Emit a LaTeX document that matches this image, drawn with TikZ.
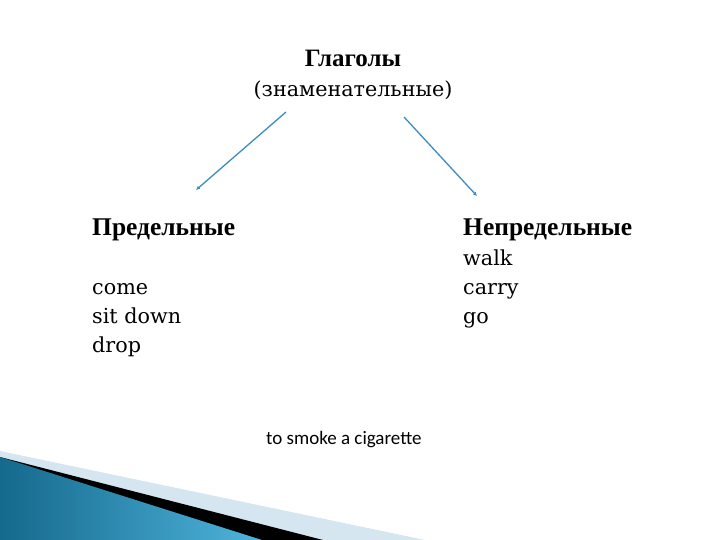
\documentclass[tikz,border=0pt]{standalone}
\usepackage{fontspec}
\setmainfont{DejaVu Serif}
\newfontfamily\headfont{Liberation Serif}
\newfontfamily\calfont{Carlito}
\usetikzlibrary{arrows.meta}
\definecolor{arrowblue}{RGB}{60,140,190}
\definecolor{lightband}{RGB}{214,230,240}
\definecolor{darkteal}{RGB}{20,105,140}
\definecolor{brightteal}{RGB}{80,180,220}
\tikzset{
  head/.style={anchor=base west, inner sep=0pt, font=\headfont\bfseries\fontsize{25.5}{30}\selectfont},
  item/.style={anchor=base west, inner sep=0pt, font=\fontsize{20.7}{25}\selectfont},
  title/.style={anchor=base, inner sep=0pt, font=\headfont\bfseries\fontsize{25}{30}\selectfont},
  subtitle/.style={anchor=base, inner sep=0pt, font=\fontsize{20.7}{25}\selectfont},
  note/.style={anchor=base west, inner sep=0pt, font=\calfont\fontsize{19}{22}\selectfont},
  link/.style={draw=arrowblue, line width=1.3pt, -{Latex[length=4pt,width=4pt]}}
}
\begin{document}
\begin{tikzpicture}[x=1pt,y=-1pt]
\useasboundingbox (0,0) rectangle (720,540);
% decoration bottom left
\fill[lightband] (0,451) -- (425,540) -- (0,540) -- cycle;
\fill[black] (0,457) -- (323,540) -- (0,540) -- cycle;
\shade[left color=darkteal, right color=brightteal] (0,457) -- (262,540) -- (0,540) -- cycle;
% texts
\node[title] (t1) at (353,67) {Глаголы};
\node[subtitle] (t2) at (353,97) {(знаменательные)};
\node[head] (l0) at (92,236) {Предельные};
\node[item] (l1) at (92,294) {come};
\node[item] (l2) at (92,323) {sit down};
\node[item] (l3) at (92,352) {drop};
\node[head] (r0) at (463,236) {Непредельные};
\node[item] (r1) at (463,265) {walk};
\node[item] (r2) at (463,294) {carry};
\node[item] (r3) at (463,323) {go};
\node[note] (n) at (266,444) {to smoke a cigarette};
% connectors
\coordinate (a1) at (286,112);
\coordinate (a2) at (196,190);
\coordinate (b1) at (404,117);
\coordinate (b2) at (477,196);
\draw[link] (a1) -- (a2);
\draw[link] (b1) -- (b2);
\end{tikzpicture}
\end{document}
